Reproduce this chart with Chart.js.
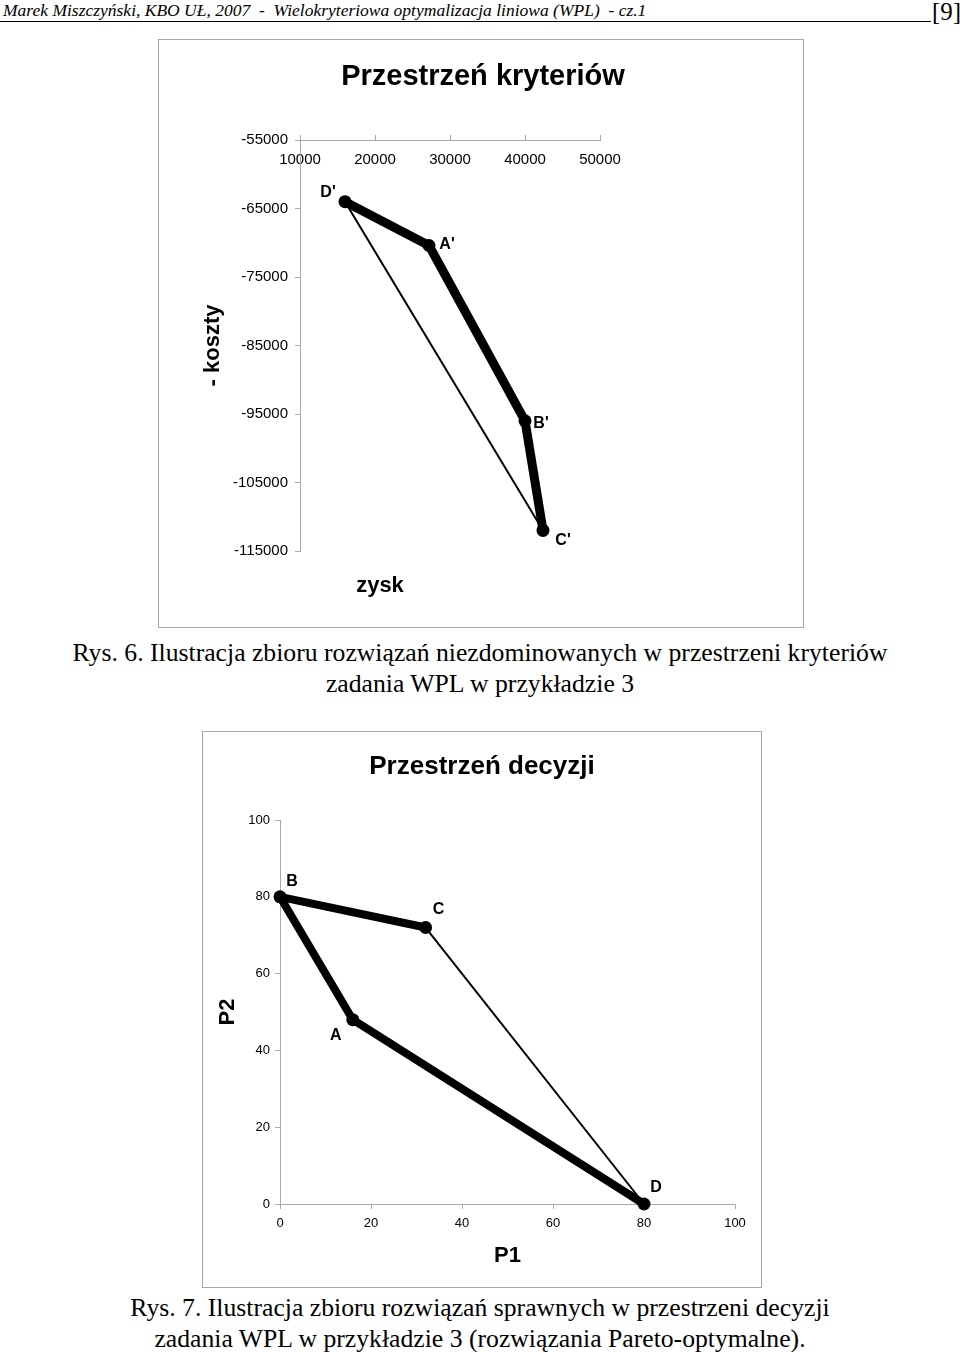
<!DOCTYPE html>
<html lang="pl">
<head>
<meta charset="UTF-8">
<title>Przestrzeń kryteriów i decyzji</title>
<script src="https://cdn.jsdelivr.net/npm/chart.js"></script>
<style>
  body { margin: 0; width: 960px; height: 1352px; position: relative; background: #fff; overflow: hidden;
         font-family: "Liberation Serif", "Times New Roman", serif; color: #000; }
  .header { position: absolute; left: 3px; top: 0px; font-style: italic; font-size: 17.5px; white-space: nowrap; }
  .rule { position: absolute; left: 0; top: 21px; width: 931px; border-top: 1px solid #000; }
  .pageno { position: absolute; left: 932px; top: -2px; font-size: 25px; }
  .box { position: absolute; border: 1px solid #a6a6a6; background: #fff; }
  .box canvas { display: block; }
  .caption { position: absolute; left: 0; width: 960px; text-align: center; font-size: 25.7px; line-height: 31px; white-space: nowrap; }
  .axlabel { position: absolute; font-family: "Liberation Sans", Arial, sans-serif; font-weight: bold; font-size: 22px;
             transform: translate(-50%, -50%); white-space: nowrap; }
  .ctitle { position: absolute; font-family: "Liberation Sans", Arial, sans-serif; font-weight: bold;
            transform: translate(-50%, -50%); white-space: nowrap; }
</style>
</head>
<body>
  <div class="header">Marek Miszczyński, KBO UŁ, 2007 &nbsp;- &nbsp;Wielokryteriowa optymalizacja liniowa (WPL) &nbsp;- cz.1</div>
  <div class="rule"></div>
  <div class="pageno">[9]</div>

  <div class="box" style="left:158px; top:39px;">
    <canvas id="critChart" width="644" height="587"></canvas>
  </div>
  <div class="ctitle" style="left:483px; top:75px; font-size:29px;">Przestrzeń kryteriów</div>
  <div class="axlabel" style="left:380px; top:585px;">zysk</div>

  <div class="caption" style="top:637px;">Rys. 6. Ilustracja zbioru rozwiązań niezdominowanych w przestrzeni kryteriów<br>zadania WPL w przykładzie 3</div>

  <div class="box" style="left:202px; top:731px;">
    <canvas id="decChart" width="558" height="555"></canvas>
  </div>
  <div class="ctitle" style="left:482px; top:765px; font-size:26px;">Przestrzeń decyzji</div>

  <div class="caption" style="top:1292px;">Rys. 7. Ilustracja zbioru rozwiązań sprawnych w przestrzeni decyzji<br>zadania WPL w przykładzie 3 (rozwiązania Pareto-optymalne).</div>

<script>
  // criteria space (zysk, -koszty)
  const critNames = ["D'", "A'", "B'", "C'"];
  const critZysk = [16000, 27200, 40000, 42400];
  const critKoszty = [-64000, -70400, -96000, -112000];
  const critThick = [0, 1, 2, 3];   // D' - A' - B' - C'
  const critThin = [0, 3];          // D' - C'

  // decision space (P1, P2)
  const decNames = ['B', 'C', 'A', 'D'];
  const decP1 = [0, 32, 16, 80];
  const decP2 = [80, 72, 48, 0];
  const decThick = [1, 0, 2, 3];    // C - B - A - D
  const decThin = [1, 3];           // C - D

  const SANS = '"Liberation Sans", Arial, sans-serif';
  const AXIS_GREY = '#a8a8a8';

  const pts = (xs, ys, order) => order.map(i => ({ x: xs[i], y: ys[i] }));

  // draws the point letters next to markers
  const pointLabels = {
    id: 'pointLabels',
    afterDatasetsDraw(chart, args, opts) {
      const { ctx } = chart;
      const xs = chart.scales.x, ys = chart.scales.y;
      ctx.save();
      ctx.font = 'bold 16px ' + SANS;
      ctx.fillStyle = '#000';
      ctx.textAlign = 'center';
      ctx.textBaseline = 'middle';
      opts.names.forEach((n, i) => {
        const px = xs.getPixelForValue(opts.xs[i]) + opts.offsets[i][0];
        const py = ys.getPixelForValue(opts.ys[i]) + opts.offsets[i][1];
        ctx.fillText(n, px, py);
      });
      ctx.restore();
    }
  };

  function lineSets(xs, ys, thick, thin, w) {
    return [
      {
        data: pts(xs, ys, thick), showLine: true, borderColor: '#000', borderWidth: w,
        borderJoinStyle: 'round', pointRadius: 6.5, pointBackgroundColor: '#000',
        pointBorderColor: '#000', pointBorderWidth: 0, clip: false
      },
      {
        data: pts(xs, ys, thin), showLine: true, borderColor: '#000', borderWidth: 2,
        pointRadius: 0, clip: false
      }
    ];
  }

  Chart.defaults.font.family = SANS;
  Chart.defaults.color = '#000';

  // ---- Przestrzeń kryteriów ----
  new Chart(document.getElementById('critChart'), {
    type: 'scatter',
    data: { datasets: lineSets(critZysk, critKoszty, critThick, critThin, 9) },
    plugins: [pointLabels],
    options: {
      responsive: false, animation: false, devicePixelRatio: 1,
      layout: { padding: { left: 0, top: 94, right: 203, bottom: 76 } },
      plugins: {
        legend: { display: false }, tooltip: { enabled: false }, title: { display: false },
        pointLabels: {
          names: critNames, xs: critZysk, ys: critKoszty,
          offsets: [[-17, -9], [18, -1], [16, 3], [20, 10]]
        }
      },
      scales: {
        x: {
          // axis sits on top (at -55000), labels hang below it like in Excel
          type: 'linear', position: 'top', min: 10000, max: 50000,
          afterFit: s => { s.height = 6; },
          ticks: { stepSize: 10000, font: { size: 15 }, mirror: true, padding: 11, callback: v => String(v) },
          grid: { drawOnChartArea: false, tickLength: 5, color: AXIS_GREY },
          border: { color: AXIS_GREY }
        },
        y: {
          type: 'linear', position: 'left', min: -115000, max: -55000,
          afterFit: s => { s.width = 141; },
          ticks: { stepSize: 10000, font: { size: 15 }, padding: 7, callback: v => String(v) },
          grid: { drawOnChartArea: false, tickLength: 5, color: AXIS_GREY },
          border: { color: AXIS_GREY },
          title: { display: true, text: '- koszty', font: { size: 22, weight: 'bold' }, padding: { top: 41 } }
        }
      }
    }
  });

  // ---- Przestrzeń decyzji ----
  new Chart(document.getElementById('decChart'), {
    type: 'scatter',
    data: { datasets: lineSets(decP1, decP2, decThick, decThin, 8) },
    plugins: [pointLabels],
    options: {
      responsive: false, animation: false, devicePixelRatio: 1,
      layout: { padding: { left: 0, top: 88, right: 26, bottom: 0 } },
      plugins: {
        legend: { display: false }, tooltip: { enabled: false }, title: { display: false },
        pointLabels: {
          names: decNames, xs: decP1, ys: decP2,
          offsets: [[12, -15], [13, -18], [-17, 16], [12, -16]]
        }
      },
      scales: {
        x: {
          type: 'linear', position: 'bottom', min: 0, max: 100,
          afterFit: s => { s.height = 83; },
          ticks: { stepSize: 20, font: { size: 13 }, padding: 7 },
          grid: { drawOnChartArea: false, tickLength: 5, color: AXIS_GREY },
          border: { color: AXIS_GREY },
          title: { display: true, text: 'P1', font: { size: 22, weight: 'bold' }, padding: { bottom: 18 } }
        },
        y: {
          type: 'linear', position: 'left', min: 0, max: 100,
          afterFit: s => { s.width = 77; },
          ticks: { stepSize: 20, font: { size: 13 }, padding: 5 },
          grid: { drawOnChartArea: false, tickLength: 5, color: AXIS_GREY },
          border: { color: AXIS_GREY },
          title: { display: true, text: 'P2', font: { size: 22, weight: 'bold' }, padding: { top: 12 } }
        }
      }
    }
  });
</script>
</body>
</html>
